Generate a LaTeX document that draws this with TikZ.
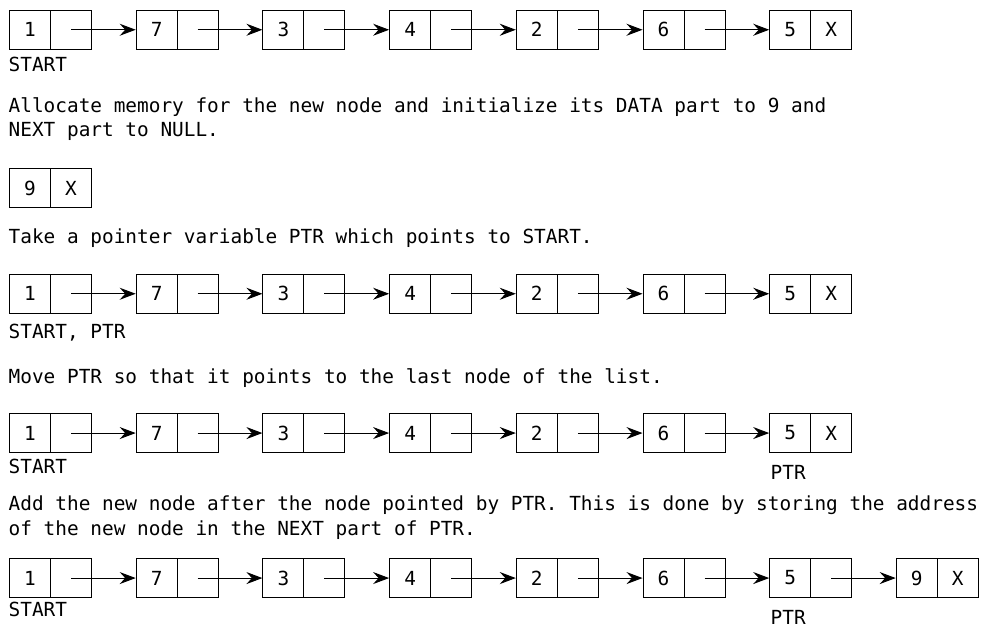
\documentclass[tikz,border=0pt]{standalone}
\usepackage{fontspec}
\setmainfont{DejaVu Sans Mono}
\usetikzlibrary{arrows.meta}
\newcommand\diagfont{\fontsize{19.4}{24}\selectfont}
\begin{document}
\begin{tikzpicture}[x=1pt,y=-1pt,
  cell/.style={draw, line width=1pt, minimum width=41pt, minimum height=38.5pt, inner sep=0pt, anchor=north west, font=\diagfont},
  txt/.style={anchor=base west, inner sep=0pt, font=\diagfont},
  link/.style={line width=1pt, -{Stealth[length=16pt,width=12pt,inset=5.5pt]}}]
\fill[white] (0,0) rectangle (984,627);
\useasboundingbox (0,0) rectangle (984,627);
% list rows
\foreach \r/\yy in {1/10,3/274,4/413.3,5/558.3}{
  \foreach \v [count=\i] in {1,7,3,4,2,6,5}{
    \node[cell] (d\r x\i) at ({9+126.7*(\i-1)},\yy) {\v};
    \node[cell] (p\r x\i) at ({50+126.7*(\i-1)},\yy) {};
  }
  \foreach \i [evaluate=\i as \j using int(\i+1)] in {1,...,6}{
    \draw[link] (p\r x\i.center) -- (d\r x\j.west);
  }
}
\node[font=\diagfont, inner sep=0pt] (x1) at (p1x7.center) {X};
\node[font=\diagfont, inner sep=0pt] (x3) at (p3x7.center) {X};
\node[font=\diagfont, inner sep=0pt] (x4) at (p4x7.center) {X};
% new node in row 5
\node[cell] (d5x8) at (895.7,558.3) {9};
\node[cell] (p5x8) at (936.7,558.3) {X};
\draw[link] (p5x7.center) -- (d5x8.west);
% new node alone
\node[cell] (nd) at (9,168.3) {9};
\node[cell] (np) at (50,168.3) {X};
% labels
\node[txt] (s1) at (8.5,71.7) {START};
\node[txt] (t1a) at (8.5,112.7) {Allocate memory for the new node and initialize its DATA part to 9 and};
\node[txt] (t1b) at (8.5,136.7) {NEXT part to NULL.};
\node[txt] (t2) at (8.5,243) {Take a pointer variable PTR which points to START.};
\node[txt] (s3) at (8.5,338) {START, PTR};
\node[txt] (t3) at (8.5,383) {Move PTR so that it points to the last node of the list.};
\node[txt] (s4) at (8.5,473.3) {START};
\node[txt] (ptr4) at (770.5,479.3) {PTR};
\node[txt] (t4a) at (8.5,510.7) {Add the new node after the node pointed by PTR. This is done by storing the address};
\node[txt] (t4b) at (8.5,535) {of the new node in the NEXT part of PTR.};
\node[txt] (s5) at (8.5,616.7) {START};
\node[txt] (ptr5) at (770.5,624.3) {PTR};
\end{tikzpicture}
\end{document}
